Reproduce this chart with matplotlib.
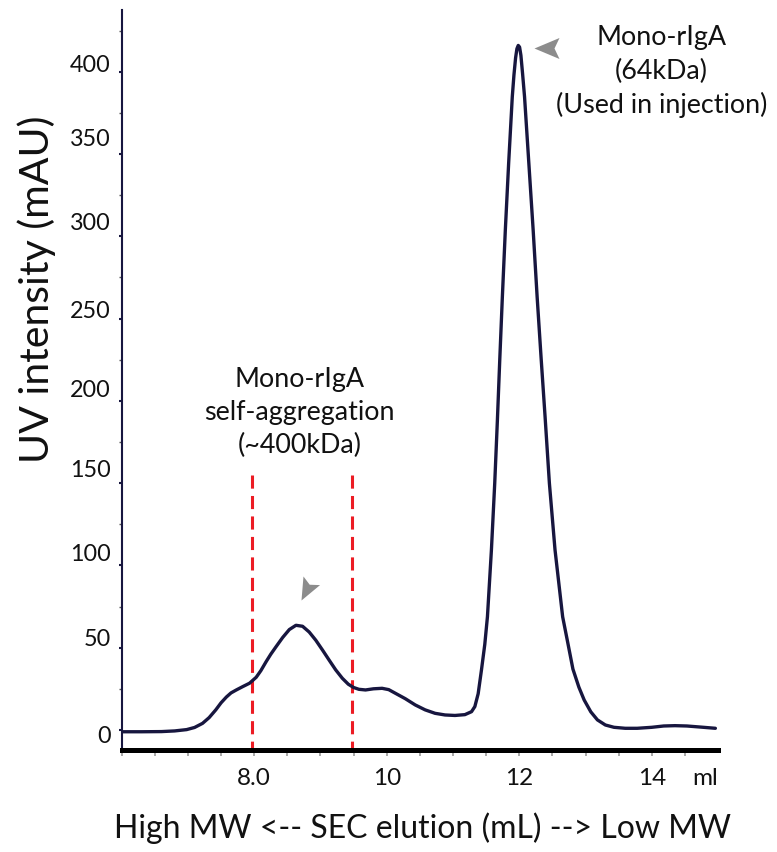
import matplotlib
matplotlib.use("Agg")
import matplotlib.pyplot as plt
from matplotlib.path import Path
from matplotlib.markers import MarkerStyle
from matplotlib.transforms import Affine2D, ScaledTranslation
import numpy as np

plt.rcParams['font.family'] = ['Lato', 'DejaVu Sans']

# ---------------- data ----------------
elution_ml = [6.0, 6.3, 6.6, 6.8, 6.98, 7.1, 7.22, 7.32, 7.42, 7.5, 7.58, 7.65,
              7.73, 7.83, 7.93, 8.03, 8.1, 8.18, 8.25, 8.33, 8.43, 8.53, 8.63,
              8.73, 8.83, 8.93, 9.03, 9.13, 9.23, 9.33, 9.42, 9.5, 9.58, 9.68,
              9.8, 9.93, 10.03, 10.13, 10.28, 10.43, 10.58, 10.73, 10.88, 11.03,
              11.18, 11.28, 11.33, 11.38, 11.43, 11.48, 11.52, 11.58, 11.63,
              11.67, 11.706, 11.745, 11.79, 11.84, 11.895, 11.92, 11.945, 11.965,
              11.985, 12.005, 12.025, 12.05, 12.08, 12.145, 12.21, 12.27, 12.33,
              12.39, 12.455, 12.54, 12.655, 12.73, 12.81, 12.9, 12.98, 13.08,
              13.18, 13.3, 13.43, 13.6, 13.78, 14.0, 14.18, 14.35, 14.53, 14.75,
              14.96]
uv_mau = [-1.1, -1.1, -1.0, -0.6, 0.2, 1.5, 4.0, 7.5, 12.2, 16.5, 20.0, 22.5,
          24.3, 26.4, 28.4, 32.0, 36.0, 41.5, 46.0, 50.6, 56.2, 61.0, 63.6,
          63.0, 59.5, 54.5, 48.6, 42.5, 36.5, 31.4, 27.8, 25.8, 24.7, 24.3,
          25.0, 25.3, 24.5, 22.3, 19.0, 15.2, 12.2, 10.1, 9.1, 8.8,
          9.3, 11.1, 14.2, 22.0, 36.5, 52.0, 68.8, 109.4, 149.9,
          188.0, 225.0, 263.0, 303.8, 344.3, 384.8, 398.0, 408.5, 414.0,
          416.0, 415.0, 410.0, 399.0, 384.8, 344.3, 303.8, 263.2, 226.0,
          190.3, 149.9, 109.4, 68.8, 53.5, 37.0, 26.0, 18.2, 11.0,
          6.1, 3.0, 1.6, 1.0, 1.0, 1.6, 2.4, 2.6, 2.4, 1.7,
          1.0]

fraction_bounds_ml = [7.97, 9.48]      # red dashed lines
fraction_top_mau = 155

xtick_pos = [8.0, 10.0, 12.0, 14.0, 14.8]
xtick_labels = ['8.0', '10', '12', '14', 'ml']
ytick_pos = [0, 50, 100, 150, 200, 250, 300, 350, 400]
ytick_labels = ['0', '50', '100', '150', '200', '250', '300', '350', '400']

main_peak_label = 'Mono-rIgA\n(64kDa)\n(Used in injection)'
agg_label = 'Mono-rIgA\nself-aggregation\n(~400kDa)'
xlabel = 'High MW <-- SEC elution (mL) --> Low MW'
ylabel = 'UV intensity (mAU)'

# ---------------- styling ----------------
NAVY = '#17163f'
RED = '#ec1c24'
GREY = '#8c8c8c'

fig = plt.figure(figsize=(7.77, 8.52), dpi=100)
ax = fig.add_axes([0.1566, 0.1197, 0.7675, 0.8685])

ax.plot(elution_ml, uv_mau, color=NAVY, lw=2.4, solid_joinstyle='round',
        solid_capstyle='round', zorder=3)

for xb in fraction_bounds_ml:
    ax.plot([xb, xb], [fraction_top_mau, -12.2], color=RED, lw=2.2,
            linestyle=(0, (4.3, 2.4)), zorder=2, clip_on=False)

ax.set_xlim(6.0, 15.0)
ax.set_ylim(-12.2, 437.5)

for s in ['top', 'right']:
    ax.spines[s].set_visible(False)
ax.spines['left'].set_color(NAVY)
ax.spines['left'].set_linewidth(1.5)
ax.spines['bottom'].set_color('black')
ax.spines['bottom'].set_linewidth(3.6)

ax.xaxis.remove_overlapping_locs = False
ax.set_xticks(xtick_pos)
ax.set_xticklabels(xtick_labels)
ax.set_xticks(np.arange(6.0, 14.6, 0.5), minor=True)
ax.tick_params(axis='x', which='major', length=0, pad=13, labelsize=17.5,
               labelcolor='#111111')
ax.tick_params(axis='x', which='minor', length=4, width=1.2, color='#9a9a9a',
               direction='out')

ax.set_yticks(ytick_pos)
ax.set_yticklabels(ytick_labels)
ax.set_yticks(np.arange(25, 430, 50), minor=True)
ax.tick_params(axis='y', which='major', length=2.5, width=1.5, color=NAVY,
               pad=5.5, labelsize=16.8, labelcolor='#111111')
ax.tick_params(axis='y', which='minor', length=2.2, width=1.0, color='#555555')

# the reference's y labels sit slightly off their ticks (pixels, up positive)
ylabel_shift_px = [-5, 10.6, 13.3, 15, 12, 9, 15, 17, 8]
for tick, dy in zip(ax.yaxis.get_major_ticks(), ylabel_shift_px):
    lbl = tick.label1
    lbl.set_transform(lbl.get_transform() +
                      ScaledTranslation(0, dy / 100.0, fig.dpi_scale_trans))

# arrowheads (notched, grey)
arrow_path = Path([(0, 0), (1, 0.42), (0.8, 0), (1, -0.42), (0, 0)],
                  [Path.MOVETO, Path.LINETO, Path.LINETO, Path.LINETO,
                   Path.CLOSEPOLY])
ax.plot([12.23], [414.5], linestyle='none', color=GREY,
        marker=MarkerStyle(arrow_path, transform=Affine2D().rotate_deg(0)),
        markersize=36, markeredgewidth=0, zorder=4)
ax.plot([8.70], [79.0], linestyle='none', color=GREY,
        marker=MarkerStyle(arrow_path, transform=Affine2D().rotate_deg(62.5)),
        markersize=32, markeredgewidth=0, zorder=4)

ax.text(14.15, 400, main_peak_label, ha='center', va='center',
        multialignment='center', fontsize=19.4, linespacing=1.4,
        color='#111111')
ax.text(8.68, 193, agg_label, ha='center', va='center',
        multialignment='center', fontsize=19.4, linespacing=1.4,
        color='#111111')

fig.text(422 / 777, 1 - 828 / 852, xlabel, ha='center', va='center',
         fontsize=23, color='#111111')
fig.text(37 / 777, 1 - 289 / 852, ylabel, ha='center', va='center',
         rotation=90, fontsize=29.5, color='#111111')

fig.savefig('out.png', dpi=100)
